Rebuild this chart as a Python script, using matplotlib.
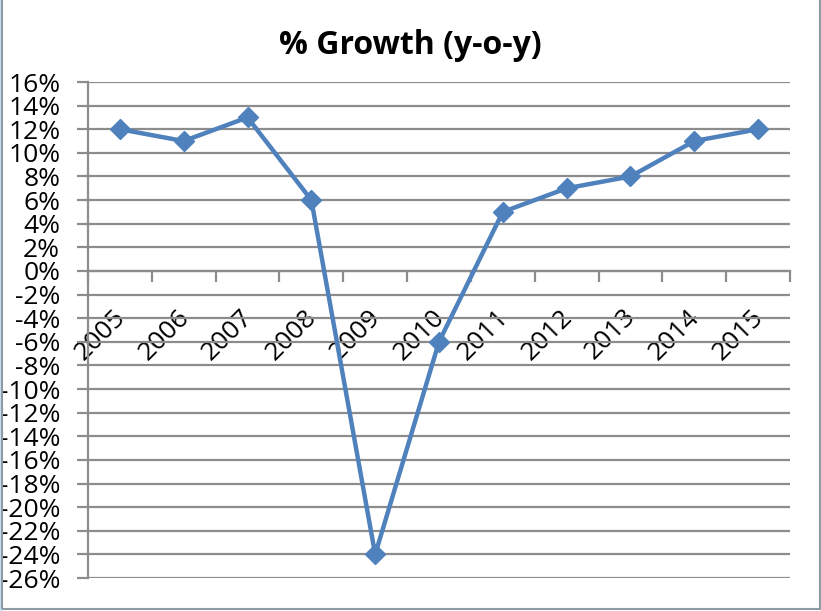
import matplotlib.pyplot as plt
import matplotlib.transforms as mtransforms
from matplotlib.patches import Rectangle
import numpy as np

years = ["2005", "2006", "2007", "2008", "2009", "2010",
         "2011", "2012", "2013", "2014", "2015"]
growth = [12, 11, 13, 6, -24, -6, 5, 7, 8, 11, 12]

plt.rcParams['font.family'] = ['Open Sans', 'DejaVu Sans']

fig = plt.figure(figsize=(8.21, 6.11), dpi=100)
fig.patch.set_facecolor("white")
# thin outer frame like the exported chart area
fig.patches.append(Rectangle((0, 0), 2 / 821, 1, transform=fig.transFigure,
                             facecolor="#c5e4f7", edgecolor="none"))
fig.patches.append(Rectangle((2 / 821, 2 / 611), 817.5 / 821, 1.2, transform=fig.transFigure,
                             facecolor="none", edgecolor="#8f9aa3", linewidth=1.5))

ax = fig.add_axes([88 / 821, 1 - 578 / 611, (790 - 88) / 821, (578 - 82) / 611])

x = np.arange(len(years))
ax.plot(x, growth, color="#4f81bd", linewidth=3.2, marker="D", markersize=10,
        markerfacecolor="#4f81bd", markeredgecolor="#4f81bd", zorder=5)

ax.set_xlim(-0.5, len(years) - 0.5)
ax.set_ylim(-26, 16)
yt = np.arange(-26, 17, 2)
ax.set_yticks(yt)
ax.set_yticklabels([f"{v}%" for v in yt], fontsize=19)
ax.yaxis.grid(True, color="#8c8c8c", linewidth=1.6)
ax.set_axisbelow(True)

for s in ["top", "right"]:
    ax.spines[s].set_visible(False)
ax.spines["left"].set_color("#8c8c8c")
ax.spines["left"].set_linewidth(1.6)
ax.spines["bottom"].set_position(("data", 0))
ax.spines["bottom"].set_color("#8c8c8c")
ax.spines["bottom"].set_linewidth(1.6)

ax.tick_params(axis="y", length=8, width=1.6, color="#8c8c8c", pad=12)
ax.set_xticks(x)
ax.set_xticklabels(years, fontsize=19, rotation=45, ha="right", va="top",
                   rotation_mode="anchor")
ax.set_xticks(np.arange(-0.5, len(years), 1), minor=True)
ax.tick_params(axis="x", which="major", length=0, pad=24)
ax.tick_params(axis="x", which="minor", length=8, width=1.6, color="#8c8c8c")
offset = mtransforms.ScaledTranslation(-7 / 100, 0, fig.dpi_scale_trans)
for lab in ax.get_xticklabels():
    lab.set_transform(lab.get_transform() + offset)

fig.text(0.5, 1 - 45 / 611, "% Growth (y-o-y)", ha="center", va="center",
         fontsize=23, fontweight="bold")

plt.savefig("out.png", dpi=100)
